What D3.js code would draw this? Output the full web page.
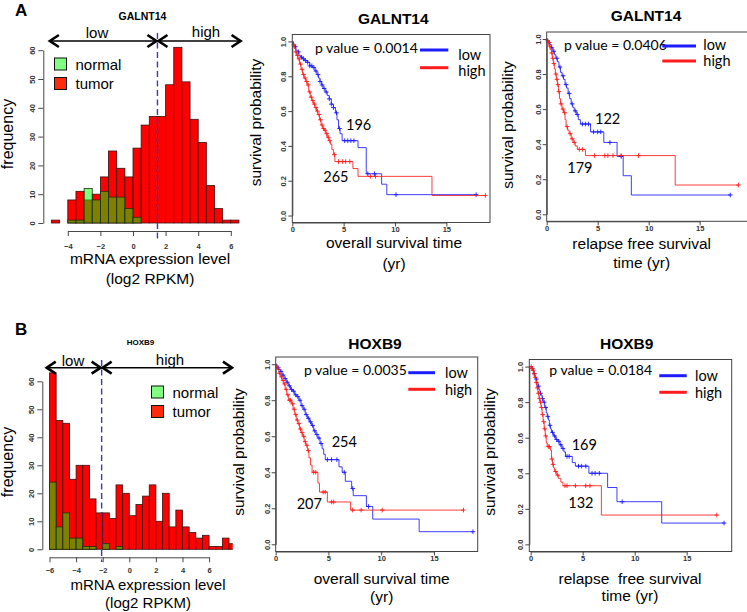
<!DOCTYPE html>
<html><head><meta charset="utf-8">
<script src="https://cdn.jsdelivr.net/npm/d3@7"></script>
<style>
body{margin:0;background:#fff}
svg{display:block}
text{font-family:"Liberation Sans",Arial,sans-serif;fill:#000}
.cal{font-family:Lato,"Open Sans",sans-serif}
.tick text{font-family:"Liberation Sans",Arial,sans-serif;font-size:7.5px;font-weight:bold;fill:#333}
</style>
</head><body>
<svg id="c" width="747" height="612"></svg>
<script>
// ================= DATA =================
const binWidth = 0.5;
// GALNT14 histogram (bins start at -5, width 0.5)
const galntBinStart = -5;
const galntTumor  = [1,0,8,11,8,10,16,25,19,16,26,34,37,37,48,61,49,36,28,13,5,1,1];
const galntNormal = [0,0,1,1,12,8,11,9,9,5,2,0,0,0,0,0,0,0,0,0,0,0,0];
const galntCutoff = 1.5;
const galntXTicks = [-4,-2,0,2,4,6];
// HOXB9 histogram (bins start at -6, width 0.5)
const hoxBinStart = -6;
const hoxTumor  = [63,46,45,25,30,30,18,13,13,11,23,20,12,16,19,23,10,20,8,14,8,6,4,5,1,1,4,2];
const hoxNormal = [24,8,13,4,4,1,1,0,2,0,1,0,0,0,0,0,0,0,0,0,0,0,0,0,0,0,0,0];
const hoxCutoff = -2.08;
const hoxXTicks = [-6,-4,-2,0,2,4,6];
const freqTicks = [0,10,20,30,40,50,60];
const groupNames = ["normal","tumor"];
const cutNames = ["low","high"];

// Kaplan-Meier steps [time (yr), survival]
const aOsLow = [[0,1],[0.08,0.99],[0.15,0.98],[0.25,0.97],[0.35,0.95],[0.5,0.94],[0.65,0.92],[0.8,0.91],[1.0,0.90],[1.2,0.89],[1.45,0.88],[1.7,0.86],[1.95,0.85],[2.2,0.83],[2.4,0.81],[2.55,0.79],[2.7,0.77],[2.85,0.75],[3.0,0.73],[3.2,0.71],[3.4,0.69],[3.6,0.67],[3.8,0.64],[4.0,0.62],[4.2,0.59],[4.35,0.55],[4.5,0.50],[4.65,0.47],[4.85,0.43],[6.4,0.39],[7.2,0.24],[8.7,0.18],[9.2,0.12]];
const aOsLowCens = [0.3,0.6,0.9,1.1,1.3,1.5,1.7,1.9,2.1,2.3,2.5,2.7,2.9,3.1,3.3,3.6,3.8,4.0,4.3,4.6,5.1,5.4,5.7,6.0,7.35,8.0,10.1,17.9];
const aOsHigh = [[0,1],[0.1,0.98],[0.2,0.96],[0.3,0.94],[0.4,0.92],[0.55,0.90],[0.7,0.87],[0.85,0.84],[1.0,0.81],[1.15,0.79],[1.3,0.77],[1.45,0.75],[1.6,0.71],[1.75,0.68],[1.9,0.66],[2.05,0.64],[2.2,0.62],[2.35,0.60],[2.5,0.58],[2.65,0.55],[2.8,0.52],[2.95,0.50],[3.1,0.49],[3.25,0.47],[3.4,0.45],[3.55,0.43],[3.7,0.41],[3.85,0.38],[4.0,0.35],[4.15,0.31],[5.9,0.27],[6.4,0.225],[13.6,0.115]];
const aOsHighCens = [0.15,0.35,0.5,0.65,0.8,0.95,1.1,1.25,1.4,1.55,1.7,1.85,2.0,2.15,2.3,2.45,2.6,2.75,2.9,3.05,3.2,3.35,3.5,3.65,4.1,4.5,4.9,5.2,5.6,7.6,8.1,18.8];
const aRfsLow = [[0,1],[0.1,0.99],[0.2,0.98],[0.3,0.97],[0.45,0.95],[0.6,0.93],[0.75,0.91],[0.9,0.89],[1.05,0.87],[1.2,0.84],[1.35,0.81],[1.5,0.79],[1.65,0.77],[1.8,0.74],[1.95,0.72],[2.1,0.69],[2.25,0.66],[2.4,0.63],[2.55,0.61],[2.7,0.59],[2.9,0.57],[3.1,0.54],[3.3,0.515],[4.3,0.47],[5.6,0.41],[6.9,0.33],[7.5,0.22],[8.3,0.11]];
const aRfsLowCens = [0.25,0.5,0.7,1.0,1.3,1.6,1.9,2.2,2.5,2.8,3.0,3.5,3.8,4.1,4.6,5.0,5.3,6.2,7.3,18.0];
const aRfsHigh = [[0,1],[0.08,0.99],[0.15,0.98],[0.25,0.96],[0.35,0.94],[0.45,0.92],[0.55,0.89],[0.65,0.86],[0.75,0.83],[0.85,0.80],[0.95,0.77],[1.05,0.74],[1.15,0.70],[1.25,0.66],[1.35,0.63],[1.5,0.60],[1.65,0.58],[1.8,0.54],[1.9,0.50],[2.05,0.48],[2.2,0.46],[2.4,0.43],[2.6,0.41],[2.8,0.39],[3.0,0.37],[3.8,0.335],[12.6,0.167]];
const aRfsHighCens = [0.1,0.2,0.3,0.5,0.6,0.7,0.9,1.0,1.1,1.2,1.4,1.6,1.75,2.0,2.3,2.5,2.7,3.2,3.5,4.7,5.7,6.0,6.5,7.3,9.0,18.8];
const bOsLow = [[0,1],[0.1,0.99],[0.2,0.98],[0.3,0.97],[0.45,0.96],[0.6,0.94],[0.8,0.92],[1.0,0.90],[1.2,0.88],[1.4,0.86],[1.6,0.85],[1.8,0.83],[2.0,0.82],[2.2,0.80],[2.4,0.77],[2.6,0.75],[2.8,0.72],[3.0,0.70],[3.2,0.68],[3.4,0.66],[3.6,0.63],[3.8,0.61],[4.0,0.59],[4.2,0.56],[4.4,0.53],[4.55,0.50],[4.7,0.47],[6.0,0.43],[6.3,0.40],[6.6,0.35],[7.2,0.31],[7.35,0.27],[8.6,0.21],[9.2,0.14],[13.6,0.07]];
const bOsLowCens = [0.25,0.5,0.7,0.9,1.1,1.3,1.5,1.7,1.9,2.1,2.3,2.5,2.7,2.9,3.1,3.3,3.5,3.7,3.9,4.1,4.3,4.9,5.3,5.8,6.5,7.3,8.8,18.7];
const bOsHigh = [[0,1],[0.1,0.98],[0.2,0.97],[0.3,0.95],[0.45,0.93],[0.6,0.91],[0.75,0.89],[0.9,0.86],[1.05,0.83],[1.2,0.80],[1.5,0.78],[1.65,0.75],[1.8,0.72],[1.95,0.69],[2.1,0.67],[2.25,0.64],[2.4,0.62],[2.55,0.60],[2.7,0.57],[2.85,0.55],[3.0,0.52],[3.15,0.48],[3.3,0.44],[3.45,0.40],[4.0,0.34],[4.15,0.29],[4.9,0.235],[7.1,0.19]];
const bOsHighCens = [0.15,0.35,0.55,0.7,0.85,1.0,1.15,1.3,1.4,1.6,1.75,1.9,2.05,2.2,2.35,2.5,2.65,2.8,2.95,3.1,3.6,3.8,4.5,4.7,5.3,5.5,7.3,8.1,10.1,17.8];
const bRfsLow = [[0,1],[0.1,0.99],[0.2,0.98],[0.3,0.96],[0.4,0.94],[0.5,0.93],[0.6,0.91],[0.7,0.89],[0.8,0.87],[0.9,0.85],[1.0,0.84],[1.1,0.82],[1.2,0.80],[1.35,0.77],[1.5,0.74],[1.6,0.72],[1.7,0.70],[1.8,0.67],[1.9,0.65],[2.0,0.63],[2.2,0.61],[2.4,0.59],[2.6,0.58],[2.8,0.56],[3.0,0.54],[3.2,0.52],[3.35,0.495],[4.0,0.46],[4.3,0.44],[5.6,0.40],[7.4,0.32],[8.3,0.24],[12.6,0.12]];
const bRfsLowCens = [0.15,0.35,0.55,0.75,0.95,1.15,1.3,1.45,1.65,1.85,2.1,2.3,2.5,2.7,2.9,3.1,3.5,3.7,4.6,4.9,5.3,5.9,6.2,6.6,8.8,18.6];
const bRfsHigh = [[0,1],[0.1,0.99],[0.2,0.98],[0.3,0.96],[0.4,0.94],[0.5,0.91],[0.6,0.88],[0.7,0.85],[0.8,0.82],[0.9,0.80],[1.0,0.77],[1.1,0.73],[1.2,0.69],[1.3,0.65],[1.4,0.61],[1.5,0.57],[1.6,0.55],[1.9,0.53],[2.0,0.48],[2.1,0.45],[2.2,0.43],[2.3,0.41],[2.5,0.39],[2.7,0.37],[2.9,0.35],[3.1,0.33],[6.8,0.165]];
const bRfsHighCens = [0.05,0.15,0.25,0.35,0.45,0.55,0.65,0.75,0.85,0.95,1.05,1.15,1.25,1.35,1.45,1.7,1.8,2.05,2.15,2.4,2.6,3.3,3.5,4.3,5.3,5.7,17.9];
const kmPValues = ["0.0014","0.0406","0.0035","0.0184"];
const kmGroupN = [[196,265],[122,179],[254,207],[169,132]];
const survTicks = [0,0.2,0.4,0.6,0.8,1.0];
const timeTicks = [0,5,10,15];

// ================= DRAW =================
const svg = d3.select("#c");
const BLUE = "#1c1cff", RED = "#ff1c1c";

function rotY(sel, off){
  sel.selectAll(".tick text").attr("transform","rotate(-90)").attr("x",0).attr("y",-off).attr("dy",0).attr("text-anchor","middle");
}
function styleAxis(sel){
  sel.selectAll("path.domain").attr("stroke","#333").attr("stroke-width",0.9);
  sel.selectAll(".tick line").attr("stroke","#333").attr("stroke-width",0.9);
}

// ----- Histograms -----
function drawHist(c){
  const g = svg.append("g");
  const x = d3.scaleLinear().domain([0,1]).range([c.x0px, c.x0px + c.pxPerUnit]);
  const y = d3.scaleLinear().domain([0,60]).range([c.y0px, c.y60px]);
  const bins = c.tumor.map((t,i)=>({a:c.start+i*binWidth, b:c.start+(i+1)*binWidth, t, n:c.normal[i]}));
  const cid = "clip"+c.id;
  g.append("clipPath").attr("id",cid).append("rect")
    .attr("x",x(c.start)-1).attr("y",0).attr("width",x(c.clipMax)-x(c.start)+1).attr("height",612);
  const bg = g.append("g").attr("clip-path",`url(#${cid})`);
  bg.selectAll("rect.t").data(bins.filter(d=>d.t>0)).join("rect").attr("class","t")
    .attr("x",d=>x(d.a)).attr("width",d=>x(d.b)-x(d.a)).attr("y",d=>y(d.t)).attr("height",d=>y(0)-y(d.t))
    .attr("fill","#ff0000").attr("stroke","#3a1010").attr("stroke-width",0.8);
  bg.selectAll("rect.n").data(bins.filter(d=>d.n>0)).join("rect").attr("class","n")
    .attr("x",d=>x(d.a)).attr("width",d=>x(d.b)-x(d.a)).attr("y",d=>y(d.n)).attr("height",d=>y(0)-y(d.n))
    .attr("fill","#00ff00").attr("fill-opacity",0.5).attr("stroke","#2a2a10").attr("stroke-width",0.8);
  // y axis
  const ya = g.append("g").attr("transform",`translate(${c.yAxisX},0)`)
    .call(d3.axisLeft(y).tickValues(freqTicks).tickSize(5).tickSizeOuter(0));
  rotY(ya, 8.5); styleAxis(ya);
  // x axis
  const xt = c.xTicks;
  const xs = d3.scaleLinear().domain([xt[0], xt[xt.length-1]]).range([x(xt[0]), x(xt[xt.length-1])]);
  const xa = g.append("g").attr("transform",`translate(0,${c.xAxisY})`)
    .call(d3.axisBottom(xs).tickValues(xt).tickSize(5).tickSizeOuter(0).tickFormat(d3.format("d")));
  xa.selectAll(".tick text").attr("y",c.tickTextY).attr("font-size","8px");
  styleAxis(xa);
  // cutoff dashed line
  g.append("line").attr("x1",x(c.cut)).attr("x2",x(c.cut)).attr("y1",c.dashTop).attr("y2",c.dashBottom)
    .attr("stroke","#3c3ca8").attr("stroke-width",1.4).attr("stroke-dasharray","6,3.5");
  // arrows
  const ay = c.arrowY, L = x(c.arrowMin), M = x(c.cut), R = x(c.arrowMax);
  const arr = g.append("g").attr("fill","none").attr("stroke","#000");
  arr.append("line").attr("x1",L).attr("x2",M).attr("y1",ay).attr("y2",ay).attr("stroke-width",1.4);
  arr.append("line").attr("x1",M).attr("x2",R).attr("y1",ay).attr("y2",ay).attr("stroke-width",1.4);
  const head = (tx,dir)=>arr.append("path").attr("d",`M${tx+dir*9},${ay-6}L${tx},${ay}L${tx+dir*9},${ay+6}`).attr("stroke-width",2.6).attr("stroke-linejoin","miter");
  head(L,1); head(M-1,-1); head(M+1,1); head(R,-1);
  g.append("text").attr("x",c.lowX).attr("y",c.lowY).attr("text-anchor","middle").attr("font-size","15px").text(cutNames[0]);
  g.append("text").attr("x",c.highX).attr("y",c.highY).attr("text-anchor","middle").attr("font-size","15px").text(cutNames[1]);
  // title
  g.append("text").attr("x",c.titleX).attr("y",c.titleY).attr("text-anchor","middle").attr("font-weight","bold").attr("font-size",c.titleSize).text(c.title);
  // legend
  const legCols = ["#80ff80","#ff2a0a"];
  groupNames.forEach((nm,i)=>{
    g.append("rect").attr("x",c.legX).attr("y",c.legY+i*c.legDy).attr("width",12).attr("height",12)
      .attr("fill",legCols[i]).attr("stroke","#111").attr("stroke-width",1);
    g.append("text").attr("x",c.legX+21).attr("y",c.legY+11.5+i*c.legDy).attr("font-size","15px").text(nm);
  });
  // labels
  g.append("text").attr("transform",`translate(${c.ylabX},${c.ylabY}) rotate(-90)`).attr("text-anchor","middle").attr("font-size","16px").text("frequency");
  g.append("text").attr("x",c.xlabX).attr("y",c.xlabY).attr("text-anchor","middle").attr("font-size",c.xlabSize).text("mRNA expression level");
  g.append("text").attr("x",c.xlabX).attr("y",c.xlabY+c.xlabGap).attr("text-anchor","middle").attr("font-size",c.xlabSize).text("(log2 RPKM)");
}

drawHist({id:"A", start:galntBinStart, tumor:galntTumor, normal:galntNormal, cut:galntCutoff, xTicks:galntXTicks,
  x0px:133, pxPerUnit:16.3, y0px:223, y60px:50.2, clipMax:6.6, yAxisX:43.3, xAxisY:231, tickTextY:12.5,
  dashTop:33, dashBottom:240, arrowY:41, arrowMin:-5.1, arrowMax:6.6,
  lowX:97, lowY:37.5, highX:206, highY:36.5, title:"GALNT14", titleX:142.5, titleY:20, titleSize:"10.5px",
  legX:54.5, legY:58, legDy:19.5, ylabX:13, ylabY:134, xlabX:150, xlabY:264, xlabGap:20, xlabSize:"15.5px"});
drawHist({id:"B", start:hoxBinStart, tumor:hoxTumor, normal:hoxNormal, cut:hoxCutoff, xTicks:hoxXTicks,
  x0px:129.3, pxPerUnit:13.3, y0px:549.3, y60px:381.3, clipMax:7.78, yAxisX:42.3, xAxisY:557.3, tickTextY:10,
  dashTop:360, dashBottom:562, arrowY:367.7, arrowMin:-6.21, arrowMax:7.72,
  lowX:73, lowY:366, highX:170, highY:364.5, title:"HOXB9", titleX:140.5, titleY:345, titleSize:"8px",
  legX:151.5, legY:386, legDy:19.5, ylabX:12.5, ylabY:462, xlabX:148, xlabY:590, xlabGap:17.5, xlabSize:"15px"});

// ----- Kaplan-Meier -----
function survAt(steps,t){ let s=steps[0][1]; for(const p of steps){ if(p[0]<=t) s=p[1]; else break; } return s; }

function drawKM(c){
  const g = svg.append("g");
  const x = d3.scaleLinear().domain([c.xMin,c.xMax]).range([c.left,c.right]);
  const y = d3.scaleLinear().domain([-0.04,1.04]).range([c.bottom,c.top]);
  // axes
  const ys = d3.scaleLinear().domain([0,1]).range([y(0),y(1)]);
  const ya = g.append("g").attr("transform",`translate(${c.left},0)`)
    .call(d3.axisLeft(ys).tickValues(survTicks).tickSize(4).tickSizeOuter(0).tickFormat(d3.format(".1f")));
  rotY(ya,6); styleAxis(ya);
  const xs = d3.scaleLinear().domain([0,15]).range([x(0),x(15)]);
  const xa = g.append("g").attr("transform",`translate(0,${c.bottom})`)
    .call(d3.axisBottom(xs).tickValues(timeTicks).tickSize(4).tickSizeOuter(0));
  xa.selectAll(".tick text").attr("y",4.5);
  styleAxis(xa);
  // curves
  const line = d3.line().x(d=>x(d[0])).y(d=>y(d[1])).curve(d3.curveStepAfter);
  [[c.low,c.lowC,BLUE],[c.high,c.highC,RED]].forEach(([st,cens,col])=>{
    const end = d3.max(cens);
    const pts = st.concat([[end, st[st.length-1][1]]]);
    g.append("path").attr("d",line(pts)).attr("fill","none").attr("stroke",col).attr("stroke-width",1).attr("stroke-opacity",0.85);
    g.append("g").selectAll("path").data(cens).join("path")
      .attr("d",t=>{const px=x(t), py=y(survAt(st,t)); return `M${px-2.3},${py}H${px+2.3}M${px},${py-2.3}V${py+2.3}`;})
      .attr("stroke",col).attr("stroke-width",0.9);
  });
  // box
  g.append("rect").attr("x",c.left).attr("y",c.top).attr("width",c.right-c.left).attr("height",c.bottom-c.top)
    .attr("fill","none").attr("stroke","#444").attr("stroke-width",1);
  // title & labels
  g.append("text").attr("x",c.titleX).attr("y",c.titleY).attr("text-anchor","middle").attr("font-weight","bold").attr("font-size","15.5px").text(c.title);
  g.append("text").attr("transform",`translate(${c.ylabX},${c.ylabY}) rotate(-90)`).attr("text-anchor","middle").attr("font-size","15.5px").text("survival probability");
  c.xlab.forEach((s,i)=>g.append("text").attr("x",c.xlabX).attr("y",c.xlabY[i]).attr("text-anchor","middle").attr("font-size","15.5px").style("white-space","pre").text(s));
  // legend
  g.append("text").attr("class","cal").attr("x",c.pX).attr("y",c.pY).attr("font-size","14px").text("p value = "+c.p);
  [[BLUE,c.legYLow,c.legTYLow,cutNames[0]],[RED,c.legYHigh,c.legTYHigh,cutNames[1]]].forEach(([col,ly,ty,nm])=>{
    g.append("line").attr("x1",c.legX1).attr("x2",c.legX2).attr("y1",ly).attr("y2",ly).attr("stroke",col).attr("stroke-width",3);
    g.append("text").attr("class","cal").attr("x",c.legTX).attr("y",ty).attr("font-size","14.5px").text(nm);
  });
  g.append("text").attr("class","cal").attr("x",c.nLowX).attr("y",c.nLowY).attr("font-size","14.5px").text(c.n[0]);
  g.append("text").attr("class","cal").attr("x",c.nHighX).attr("y",c.nHighY).attr("font-size","14.5px").text(c.n[1]);
}

drawKM({left:292.3,right:490,top:34.5,bottom:222.5,xMin:0,xMax:19.25,low:aOsLow,lowC:aOsLowCens,high:aOsHigh,highC:aOsHighCens,
  title:"GALNT14",titleX:393.3,titleY:24,xlab:["overall survival time","(yr)"],xlabX:394,xlabY:[248,269],ylabX:261,ylabY:122.5,
  p:kmPValues[0],pX:315,pY:53,legX1:420,legX2:448.3,legYLow:50,legYHigh:67.7,legTX:458.3,legTYLow:60,legTYHigh:76,
  n:kmGroupN[0],nLowX:346,nLowY:130,nHighX:323.3,nHighY:181.7});
drawKM({left:546.7,right:748,top:32,bottom:221.3,xMin:0,xMax:19.74,low:aRfsLow,lowC:aRfsLowCens,high:aRfsHigh,highC:aRfsHighCens,
  title:"GALNT14",titleX:646,titleY:21,xlab:["relapse free survival","time (yr)"],xlabX:641.7,xlabY:[249,268],ylabX:513,ylabY:125,
  p:kmPValues[1],pX:564,pY:49.5,legX1:662.3,legX2:696,legYLow:46,legYHigh:61,legTX:703.3,legTYLow:50,legTYHigh:65.5,
  n:kmGroupN[1],nLowX:595,nLowY:124,nHighX:567.3,nHighY:173.3});
drawKM({left:275.7,right:477.7,top:357,bottom:551.5,xMin:0,xMax:19.15,low:bOsLow,lowC:bOsLowCens,high:bOsHigh,highC:bOsHighCens,
  title:"HOXB9",titleX:375,titleY:349,xlab:["overall survival time","(yr)"],xlabX:381.7,xlabY:[584,602],ylabX:244,ylabY:452,
  p:kmPValues[2],pX:304,pY:375,legX1:408.3,legX2:435,legYLow:372.7,legYHigh:389.3,legTX:445,legTYLow:378,legTYHigh:395,
  n:kmGroupN[2],nLowX:331.7,nLowY:446.7,nHighX:296.7,nHighY:509.3});
drawKM({left:529.3,right:731.7,top:359.5,bottom:551.5,xMin:-0.13,xMax:19.33,low:bRfsLow,lowC:bRfsLowCens,high:bRfsHigh,highC:bRfsHighCens,
  title:"HOXB9",titleX:626.7,titleY:349,xlab:["relapse  free survival","time (yr)"],xlabX:630,xlabY:[584,601],ylabX:495,ylabY:452,
  p:kmPValues[3],pX:549.3,pY:375,legX1:659.3,legX2:686.7,legYLow:375.7,legYHigh:392.3,legTX:695,legTYLow:381,legTYHigh:398,
  n:kmGroupN[3],nLowX:571.7,nLowY:450,nHighX:568.3,nHighY:508.3});

// panel letters
svg.append("text").attr("x",15).attr("y",15.5).attr("font-weight","bold").attr("font-size","17px").text("A");
svg.append("text").attr("x",15).attr("y",335).attr("font-weight","bold").attr("font-size","17px").text("B");
</script>
</body></html>
